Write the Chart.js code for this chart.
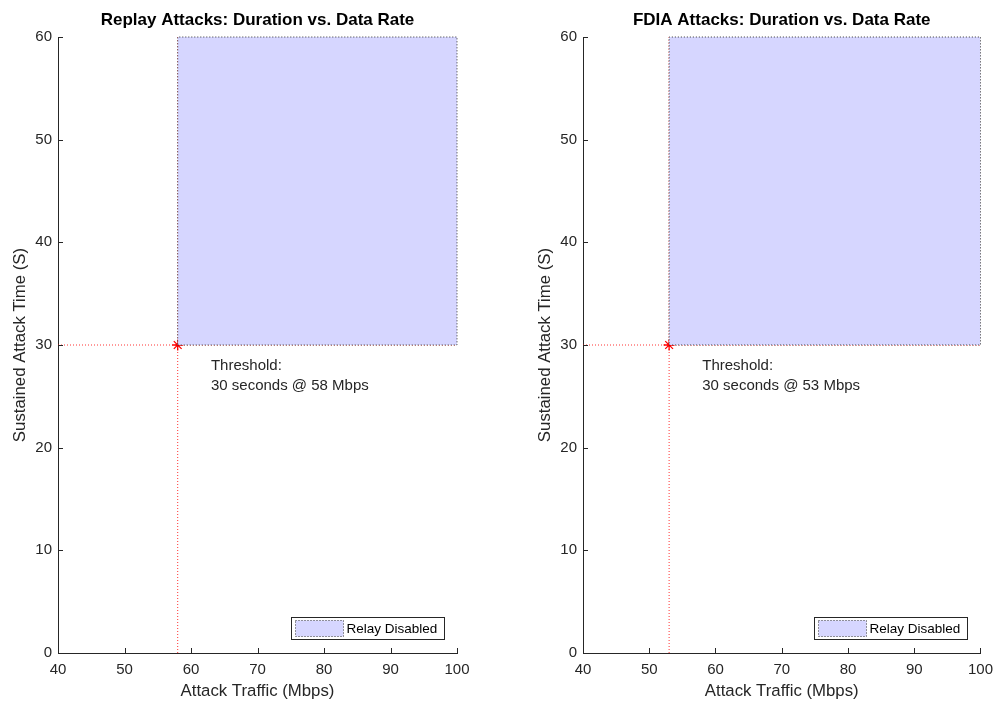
<!DOCTYPE html>
<html>
<head>
<meta charset="utf-8">
<script src="https://cdn.jsdelivr.net/npm/chart.js@4.4.1/dist/chart.umd.min.js"></script>
<style>
  html, body { margin: 0; padding: 0; background: #fff; overflow: hidden; }
  #wrap { position: relative; width: 993px; height: 702px; overflow: hidden; }
  canvas { position: absolute; top: 0; }
</style>
</head>
<body>
<div id="wrap">
  <canvas id="left" width="496" height="702" style="left:0px"></canvas>
  <canvas id="right" width="476" height="702" style="left:525px"></canvas>
</div>
<script>
// values
const xTicks = [40, 50, 60, 70, 80, 90, 100];
const yTicks = [0, 10, 20, 30, 40, 50, 60];
const titles = ['Replay Attacks: Duration vs. Data Rate', 'FDIA Attacks: Duration vs. Data Rate'];
const thresholdRate = [58, 53];
const thresholdTime = [30, 30];
const regionMax = { x: 100, y: 60 };
const notes = [
  ['Threshold:', '30 seconds @ 58 Mbps'],
  ['Threshold:', '30 seconds @ 53 Mbps']
];
const noteOffset = { x: 5, y: -3 };
const legendLabel = 'Relay Disabled';

const FONT = "'Liberation Sans', Arial, Helvetica, sans-serif";
const AXIS = '#262626';
const FILL = 'rgb(214,214,255)';

// MATLAB style inward ticks, annotation text and legend box
const extras = {
  id: 'extras',
  afterDatasetsDraw(chart, args, opts) {
    const { ctx, chartArea: a, scales: { x, y } } = chart;
    ctx.save();
    ctx.strokeStyle = AXIS;
    ctx.lineWidth = 1;
    ctx.beginPath();
    xTicks.forEach(v => {
      const px = Math.round(x.getPixelForValue(v)) + 0.5;
      ctx.moveTo(px, a.bottom);
      ctx.lineTo(px, a.bottom - 5);
    });
    yTicks.forEach(v => {
      const py = Math.round(y.getPixelForValue(v)) + 0.5;
      ctx.moveTo(a.left, py);
      ctx.lineTo(a.left + 5, py);
    });
    ctx.stroke();

    // threshold note
    const lines = opts.note;
    const nx = x.getPixelForValue(opts.noteX);
    const ny = y.getPixelForValue(opts.noteY);
    ctx.fillStyle = AXIS;
    ctx.font = '15px ' + FONT;
    ctx.textAlign = 'left';
    ctx.textBaseline = 'middle';
    const lh = 20.5;
    lines.forEach((t, i) => {
      ctx.fillText(t, nx, ny + (i - (lines.length - 1) / 2) * lh);
    });

    // legend
    const w = 153, h = 22;
    const lx = Math.round(a.right - 13 - w) + 0.5;
    const ly = Math.round(a.bottom - 14 - h) + 0.5;
    ctx.fillStyle = '#fff';
    ctx.fillRect(lx, ly, w, h);
    ctx.strokeStyle = '#262626';
    ctx.strokeRect(lx, ly, w, h);
    ctx.fillStyle = FILL;
    ctx.fillRect(lx + 4, ly + 3, 48, h - 6);
    ctx.setLineDash([1, 2]);
    ctx.strokeStyle = '#333';
    ctx.strokeRect(lx + 4, ly + 3, 48, h - 6);
    ctx.setLineDash([]);
    ctx.fillStyle = '#000';
    ctx.font = '13.5px ' + FONT;
    ctx.fillText(opts.legend, lx + 55, ly + h / 2 + 0.5);
    ctx.restore();
  }
};

function makeChart(id, i, padRight) {
  const t = thresholdRate[i];
  const s = thresholdTime[i];
  return new Chart(document.getElementById(id), {
    type: 'scatter',
    data: {
      datasets: [
        {
          label: legendLabel,
          data: [
            { x: t, y: s }, { x: regionMax.x, y: s },
            { x: regionMax.x, y: regionMax.y }, { x: t, y: regionMax.y }, { x: t, y: s }
          ],
          showLine: true,
          fill: 'shape',
          backgroundColor: FILL,
          borderColor: '#333',
          borderWidth: 1,
          borderDash: [1, 2],
          pointRadius: 0,
          clip: false
        },
        {
          label: 'h',
          data: [{ x: xTicks[0], y: s }, { x: xTicks[xTicks.length - 1], y: s }],
          showLine: true,
          borderColor: 'rgba(255,0,0,0.8)',
          borderWidth: 1,
          borderDash: [1, 2],
          pointRadius: 0,
          clip: false
        },
        {
          label: 'v',
          data: [{ x: t, y: yTicks[0] }, { x: t, y: yTicks[yTicks.length - 1] }],
          showLine: true,
          borderColor: 'rgba(255,0,0,0.8)',
          borderWidth: 1,
          borderDash: [1, 2],
          pointRadius: 0,
          clip: false
        },
        {
          label: 'threshold',
          data: [{ x: t, y: s }],
          pointStyle: 'star',
          pointRadius: 5.5,
          borderColor: '#ff0000',
          backgroundColor: '#ff0000',
          borderWidth: 1.3,
          clip: false
        }
      ]
    },
    options: {
      responsive: false,
      animation: false,
      events: [],
      layout: { padding: { left: 0, right: padRight, top: 0, bottom: 0 } },
      plugins: {
        legend: { display: false },
        tooltip: { enabled: false },
        title: {
          display: true,
          text: titles[i],
          fullSize: false,
          color: '#000',
          font: { family: FONT, size: 17, weight: 'bold', lineHeight: 1.2 },
          padding: { top: 10.5, bottom: 6.1 }
        },
        extras: {
          note: notes[i],
          noteX: t + noteOffset.x,
          noteY: s + noteOffset.y,
          legend: legendLabel
        }
      },
      scales: {
        x: {
          type: 'linear',
          min: xTicks[0],
          max: xTicks[xTicks.length - 1],
          afterBuildTicks: sc => { sc.ticks = xTicks.map(v => ({ value: v })); },
          afterFit: sc => { sc.height = 49; },
          grid: { display: true, drawOnChartArea: false, drawTicks: false },
          border: { display: true, color: AXIS, width: 1 },
          ticks: { color: AXIS, padding: 8, font: { family: FONT, size: 15 }, maxRotation: 0 },
          title: {
            display: true,
            text: 'Attack Traffic (Mbps)',
            color: AXIS,
            font: { family: FONT, size: 16.8 },
            padding: { top: 0, bottom: 1 }
          }
        },
        y: {
          type: 'linear',
          min: yTicks[0],
          max: yTicks[yTicks.length - 1],
          afterBuildTicks: sc => { sc.ticks = yTicks.map(v => ({ value: v })); },
          afterFit: sc => { sc.width = 58; },
          grid: { display: true, drawOnChartArea: false, drawTicks: false },
          border: { display: true, color: AXIS, width: 1 },
          ticks: { color: AXIS, padding: 6, font: { family: FONT, size: 15 } },
          title: {
            display: true,
            text: 'Sustained Attack Time (S)',
            color: AXIS,
            font: { family: FONT, size: 16.8 },
            padding: { top: 10, bottom: 0 }
          }
        }
      }
    },
    plugins: [extras]
  });
}

makeChart('left', 0, 39);
makeChart('right', 1, 20);
</script>
</body>
</html>
